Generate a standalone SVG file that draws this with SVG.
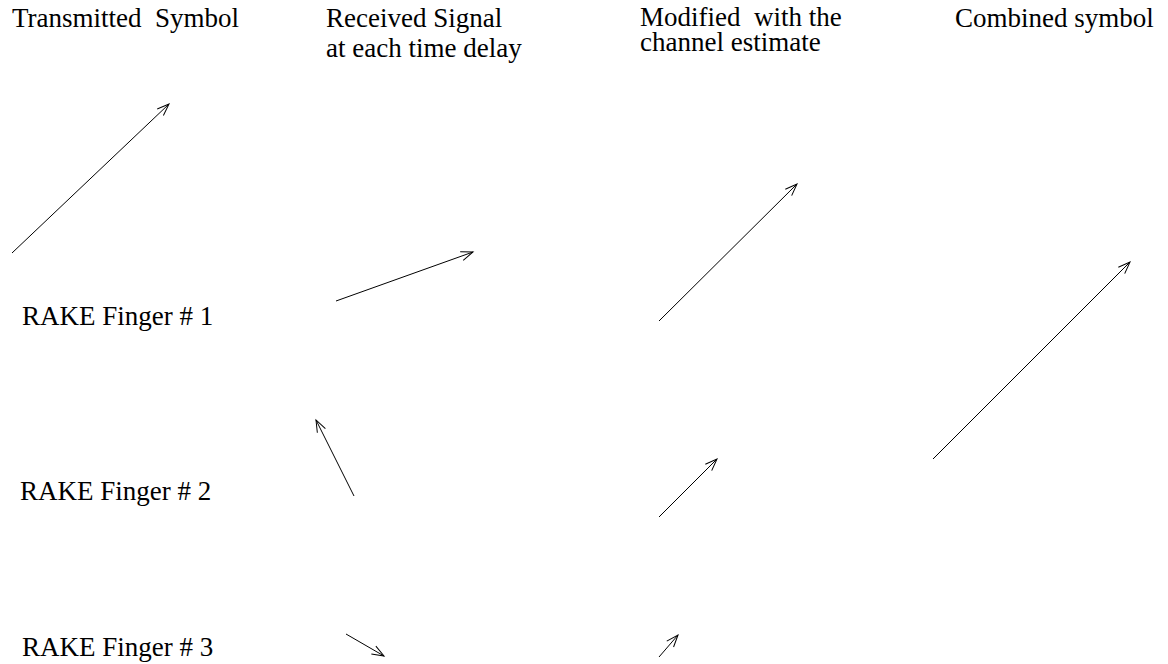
<svg xmlns="http://www.w3.org/2000/svg" width="1168" height="664" viewBox="0 0 1168 664">
  <defs>
    <marker id="head" markerUnits="userSpaceOnUse" markerWidth="16" markerHeight="12" refX="14" refY="6" orient="auto" overflow="visible">
      <path d="M2,1.5 L14,6 L2,10.5" fill="none" stroke="#000" stroke-width="1"/>
    </marker>
  </defs>
  <rect width="1168" height="664" fill="#fff"/>
  <g id="heading-transmitted"><text x="12" y="27" font-family="Liberation Serif" font-size="27" xml:space="preserve">Transmitted  Symbol</text></g>
  <g id="heading-received"><text x="326" y="27" font-family="Liberation Serif" font-size="27">Received Signal</text><text x="326" y="57" font-family="Liberation Serif" font-size="27">at each time delay</text></g>
  <g id="heading-modified"><text x="640" y="26" font-family="Liberation Serif" font-size="27" xml:space="preserve">Modified  with the</text><text x="640" y="51" font-family="Liberation Serif" font-size="27">channel estimate</text></g>
  <g id="heading-combined"><text x="955" y="27" font-family="Liberation Serif" font-size="27">Combined symbol</text></g>
  <g id="finger-1"><text x="22" y="325" font-family="Liberation Serif" font-size="27">RAKE Finger # 1</text></g>
  <g id="finger-2"><text x="20" y="500" font-family="Liberation Serif" font-size="27">RAKE Finger # 2</text></g>
  <g id="finger-3"><text x="22" y="656" font-family="Liberation Serif" font-size="27">RAKE Finger # 3</text></g>
  <g id="vectors" stroke="#000" stroke-width="1" fill="none" marker-end="url(#head)">
    <line x1="12" y1="253" x2="169" y2="104"/>
    <line x1="336" y1="301" x2="473" y2="252"/>
    <line x1="354" y1="496" x2="316" y2="420"/>
    <line x1="346" y1="634" x2="384" y2="656"/>
    <line x1="659" y1="321" x2="797" y2="184"/>
    <line x1="659" y1="517" x2="717" y2="459"/>
    <line x1="659" y1="657" x2="678" y2="635"/>
    <line x1="933" y1="459" x2="1130" y2="262"/>
  </g>
</svg>
